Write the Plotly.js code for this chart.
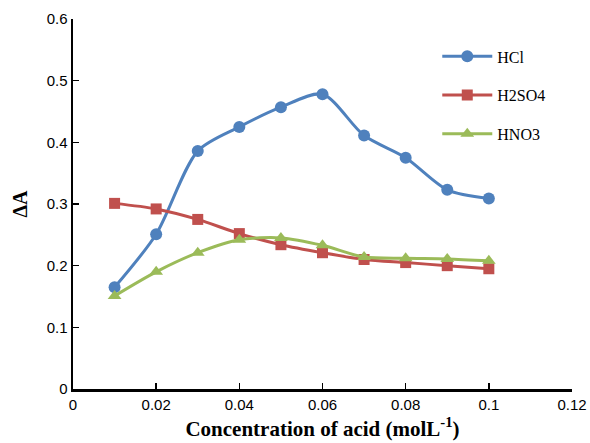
<!DOCTYPE html>
<html><head><meta charset="utf-8">
<script src="https://cdn.plot.ly/plotly-3.0.1.min.js"></script>
<style>body{margin:0;background:#fff}#chart{width:590px;height:443px}</style>
</head><body><div id="chart"></div>
<script>
const concentration = [0.01,0.02,0.03,0.04,0.05,0.06,0.07,0.08,0.09,0.1];
const hcl   = [0.165,0.251,0.386,0.425,0.457,0.478,0.411,0.375,0.323,0.309];
const h2so4 = [0.301,0.292,0.275,0.252,0.234,0.221,0.210,0.205,0.200,0.195];
const hno3  = [0.151,0.190,0.221,0.242,0.245,0.233,0.214,0.212,0.211,0.208];
const xTicks = [0,0.02,0.04,0.06,0.08,0.1,0.12];
const xTickText = ['0','0.02','0.04','0.06','0.08','0.1','0.12'];
const yTicks = [0,0.1,0.2,0.3,0.4,0.5,0.6];
const yTickText = ['0','0.1','0.2','0.3','0.4','0.5','0.6'];

function tr(name, y, color, symbol, size, group){
  return {x:concentration, y:y, name:name, type:'scatter', mode:'lines+markers',
    legendgroup:group,
    line:{color:color, width:3, shape:'spline', smoothing:0.8},
    marker:{color:color, symbol:symbol, size:size}};
}
const data = [
  tr('HCl', hcl, '#4F81BD', 'circle', 12, 'a'),
  tr('H2SO4', h2so4, '#C0504D', 'square', 11, 'b'),
  tr('HNO3', hno3, '#9BBB59', 'triangle-up', 12, 'c')
];
const layout = {
  width:590, height:443,
  margin:{l:73, r:18, t:19, b:54},
  paper_bgcolor:'#fff', plot_bgcolor:'#fff',
  showlegend:true,
  legend:{x:0.73, y:0.945, xanchor:'left', yanchor:'top', traceorder:'grouped', tracegroupgap:15, itemwidth:50,
    font:{family:'"Liberation Serif", serif', size:16, color:'#000'}, bgcolor:'rgba(0,0,0,0)'},
  xaxis:{range:[0,0.12], tickvals:xTicks, ticktext:xTickText, ticks:'inside', ticklen:6, tickwidth:1.5, tickcolor:'#000',
    showline:true, linecolor:'#000', linewidth:2.5, showgrid:false, zeroline:false,
    tickfont:{family:'"Liberation Sans", sans-serif', size:15, color:'#000'},
    title:{text:'<b>Concentration of acid (molL<sup>-1</sup>)</b>', standoff:10,
      font:{family:'"Liberation Serif", "Times New Roman", serif', size:21, color:'#000'}}},
  yaxis:{range:[0,0.6], tickvals:yTicks, ticktext:yTickText, ticks:'inside', ticklen:6, tickwidth:1.5, tickcolor:'#000',
    showline:true, linecolor:'#000', linewidth:2.5, showgrid:false, zeroline:false,
    tickfont:{family:'"Liberation Sans", sans-serif', size:15, color:'#000'},
    title:{text:'<b>ΔA</b>', standoff:14,
      font:{family:'"Liberation Serif", "Times New Roman", serif', size:20, color:'#000'}}}
};
Plotly.newPlot('chart', data, layout, {displayModeBar:false, staticPlot:true});
</script></body></html>
